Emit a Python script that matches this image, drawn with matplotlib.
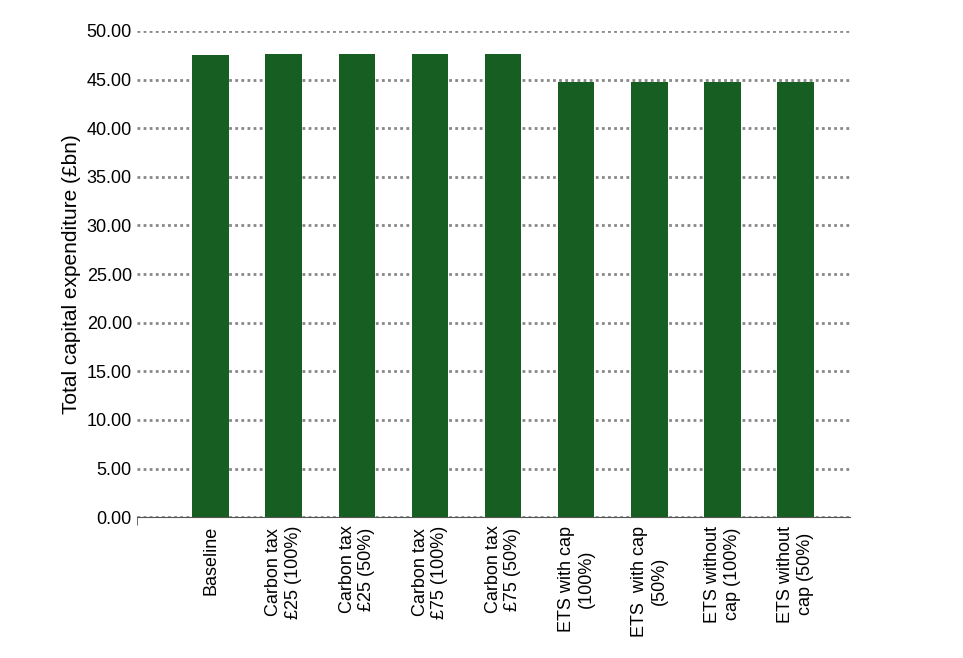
import numpy as np
import matplotlib.pyplot as plt

categories = ["Baseline", "Carbon tax\n£25 (100%)", "Carbon tax\n£25 (50%)",
              "Carbon tax\n£75 (100%)", "Carbon tax\n£75 (50%)",
              "ETS with cap\n(100%)", "ETS  with cap\n(50%)",
              "ETS without\ncap (100%)", "ETS without\ncap (50%)"]
values = [47.5, 47.6, 47.6, 47.6, 47.6, 44.7, 44.7, 44.7, 44.7]
yticks = np.arange(0, 50.01, 5)

plt.rcParams['font.family'] = ['Liberation Sans', 'DejaVu Sans']
fig = plt.figure(figsize=(9.63, 6.58), dpi=100)
ax = fig.add_axes([0.142, 0.214, 0.741, 0.739])

x = np.arange(len(categories))
ax.bar(x, values, width=0.5, color='#175e22', zorder=3)

ax.set_xlim(-1.01, 8.75)
ax.set_ylim(0, 50)
ax.set_yticks(yticks)
ax.set_yticklabels([f"{v:.2f}" for v in yticks], fontsize=13)
ax.yaxis.grid(True, linestyle=(0, (1, 1.2)), color='#888888', linewidth=2, zorder=0)
ax.set_ylabel("Total capital expenditure (£bn)", fontsize=15)

ax.set_xticks(x)
ax.set_xticklabels(categories, rotation=90, fontsize=13, va='top', ha='center')
ax.tick_params(axis='x', length=0, pad=6)
ax.tick_params(axis='y', length=0)
ax.set_xticks([-1.01, 3.0], minor=True)
ax.tick_params(axis='x', which='minor', length=6, direction='out', color='#555555')

for s in ['top', 'right', 'left']:
    ax.spines[s].set_visible(False)
ax.spines['bottom'].set_color('#555555')

fig.savefig('out.png', dpi=100)
